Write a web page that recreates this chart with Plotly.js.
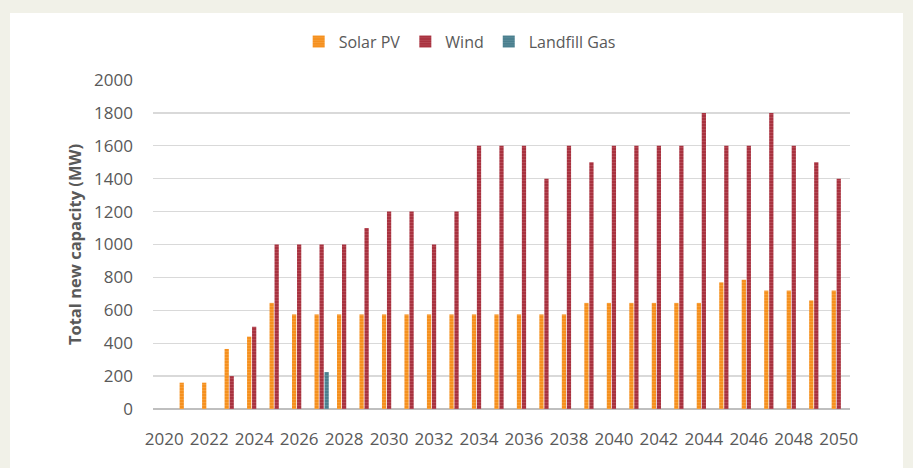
<!DOCTYPE html>
<html>
<head>
<meta charset="utf-8">
<script src="https://cdn.plot.ly/plotly-3.0.1.min.js"></script>
<style>
  html, body { margin: 0; padding: 0; background: #F1F1E8; width: 913px; height: 468px; overflow: hidden; }
  #chart { position: absolute; left: 10px; top: 13px; width: 893px; height: 455px; background: #ffffff; }
</style>
</head>
<body>
<div id="chart"></div>
<script>
const years = [2020,2021,2022,2023,2024,2025,2026,2027,2028,2029,2030,2031,2032,2033,2034,2035,2036,2037,2038,2039,2040,2041,2042,2043,2044,2045,2046,2047,2048,2049,2050];
const solarPV = [0,160,160,365,440,645,575,575,575,575,575,575,575,575,575,575,575,575,575,645,645,645,645,645,645,770,785,720,720,660,720];
const wind = [0,0,0,200,500,1000,1000,1000,1000,1100,1200,1200,1000,1200,1600,1600,1600,1400,1600,1500,1600,1600,1600,1600,1800,1600,1600,1800,1600,1500,1400];
const landfillYears = [2027];
const landfillGas = [225];
const xTickVals = [2020,2022,2024,2026,2028,2030,2032,2034,2036,2038,2040,2042,2044,2046,2048,2050];
const xTickText = xTickVals.map(String);
const yTickVals = [0,200,400,600,800,1000,1200,1400,1600,1800,2000];

const textColor = '#595959';
const fontFam = '"Open Sans", "Noto Sans", sans-serif';

function trace(name, x, y, color, light) {
  return {
    type: 'bar', name: name, x: x, y: y,
    marker: {
      color: color,
      line: { width: 0 },
      pattern: { shape: '-', fgcolor: light, bgcolor: color, size: 3, solidity: 0.25, fillmode: 'overlay' }
    },
    hoverinfo: 'x+y+name'
  };
}

const data = [
  trace('Solar PV', years, solarPV, '#F5901E', '#FBB868'),
  trace('Wind', years, wind, '#A8323F', '#C9707A'),
  trace('Landfill Gas', landfillYears, landfillGas, '#4A7F8E', '#7FA7B2')
];

const layout = {
  width: 893, height: 455,
  paper_bgcolor: '#ffffff', plot_bgcolor: '#ffffff',
  margin: { l: 143, r: 53, t: 66.5, b: 59 },
  barmode: 'group', bargap: 0.333, bargroupgap: 0.15,
  font: { family: fontFam, size: 16, color: textColor },
  showlegend: true,
  legend: {
    orientation: 'h', x: 0.44, xanchor: 'center', y: 1.117, yanchor: 'middle',
    font: { family: fontFam, size: 16, color: textColor },
    traceorder: 'normal', itemclick: false
  },
  xaxis: {
    type: 'linear', range: [2019.5, 2050.5],
    tickmode: 'array', tickvals: xTickVals, ticktext: xTickText,
    showgrid: false, zeroline: false, showline: false, ticks: '',
    ticklabelstandoff: 18,
    tickfont: { family: fontFam, size: 17, color: textColor }
  },
  yaxis: {
    range: [0, 2000], tickmode: 'array', tickvals: yTickVals,
    showgrid: true, gridcolor: '#D9D9D9', gridwidth: 1.3,
    zeroline: true, zerolinecolor: '#BFBFBF', zerolinewidth: 2.5,
    showline: false, ticks: '', ticklabelstandoff: 19,
    tickfont: { family: fontFam, size: 17, color: textColor },
    title: { text: 'Total new capacity (MW)', font: { family: fontFam, size: 16.5, color: textColor, weight: 'bold' }, standoff: 8 }
  }
};

Plotly.newPlot('chart', data, layout, { displayModeBar: false, staticPlot: true });
</script>
</body>
</html>
